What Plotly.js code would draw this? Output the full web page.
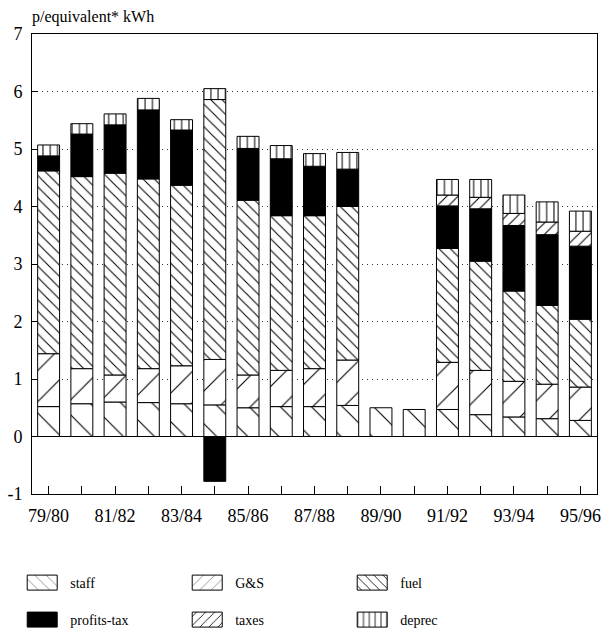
<!DOCTYPE html>
<html>
<head>
<meta charset="utf-8">
<script src="https://cdn.plot.ly/plotly-3.0.1.min.js"></script>
<style>html,body{margin:0;padding:0;background:#fff;}#chart{width:605px;height:634px;}</style>
</head>
<body>
<div id="chart"></div>
<script>
// Categories (financial years)
const years = ["79/80","80/81","81/82","82/83","83/84","84/85","85/86","86/87","87/88","88/89","89/90","90/91","91/92","92/93","93/94","94/95","95/96"];
// Tick labels (every other year shown)
const tickLabels = ["79/80","","81/82","","83/84","","85/86","","87/88","","89/90","","91/92","","93/94","","95/96"];
// Y tick values and labels
const yTickVals = [-1,0,1,2,3,4,5,6,7];
const yTickText = ["-1","0","1","2","3","4","5","6","7"];
// Cost components, p per equivalent kWh (0 = not shown)
const staff      = [0.52,0.57,0.60,0.59,0.57,0.55,0.50,0.52,0.52,0.54,0.50,0.47,0.47,0.38,0.34,0.31,0.28];
const gs         = [0.92,0.61,0.47,0.59,0.66,0.79,0.57,0.63,0.66,0.79,0,0,0.82,0.77,0.62,0.60,0.58];
const fuel       = [3.18,3.34,3.51,3.30,3.14,4.52,3.04,2.69,2.66,2.67,0,0,1.98,1.90,1.57,1.37,1.18];
const profitsTax = [0.26,0.74,0.84,1.20,0.96,-0.78,0.90,0.99,0.86,0.65,0,0,0.74,0.91,1.14,1.23,1.27];
const taxes      = [0,0,0,0,0,0,0,0,0,0,0,0,0.19,0.20,0.21,0.22,0.26];
const deprec     = [0.19,0.18,0.19,0.20,0.18,0.19,0.21,0.23,0.22,0.29,0,0,0.27,0.31,0.32,0.35,0.35];

const serif = "Liberation Serif, Times New Roman, serif";
const line = {color: "black", width: 1};
const nz = v => v.map(d => (d === 0 ? null : d));

function patBar(name, vals, shape, size, solidity, legend) {
  return {
    type: "bar", name: name, x: years, y: nz(vals), legend: legend,
    marker: {color: "white", line: line,
      pattern: {shape: shape, size: size, solidity: solidity, fgcolor: "black", bgcolor: "white", fillmode: "replace"}},
    hoverinfo: "skip"
  };
}

const traces = [
  patBar("staff", staff, "\\", 22, 0.05, "legend"),
  patBar("G&S", gs, "/", 22, 0.05, "legend"),
  patBar("fuel", fuel, "\\", 8, 0.13, "legend"),
  {type: "bar", name: "profits-tax", x: years, y: nz(profitsTax), legend: "legend2",
   marker: {color: "black", line: line}, hoverinfo: "skip"},
  patBar("taxes", taxes, "/", 8, 0.13, "legend2"),
  patBar("deprec", deprec, "|", 7.3, 0.14, "legend2")
];

const legendBase = {
  orientation: "h", xref: "container", yref: "container", x: 0.0235, xanchor: "left", yanchor: "middle",
  entrywidth: 104, entrywidthmode: "pixels", itemwidth: 46,
  font: {family: serif, size: 14, color: "black"},
  bgcolor: "rgba(0,0,0,0)", traceorder: "normal", itemclick: false, itemdoubleclick: false
};

const layout = {
  width: 605, height: 634,
  margin: {l: 32, r: 8, t: 34, b: 140},
  paper_bgcolor: "white", plot_bgcolor: "white",
  barmode: "relative", bargap: 0.34,
  font: {family: serif, size: 17, color: "black"},
  showlegend: true,
  legend: Object.assign({}, legendBase, {y: 1 - 583/634}),
  legend2: Object.assign({}, legendBase, {y: 1 - 620/634}),
  xaxis: {
    type: "category", tickmode: "array", tickvals: years, ticktext: tickLabels,
    ticks: "inside", ticklen: 8, tickcolor: "black", tickwidth: 1,
    showline: true, linecolor: "black", linewidth: 1, mirror: true,
    showgrid: false, range: [-0.5, 16.5], fixedrange: true, ticklabelstandoff: 5,
    tickfont: {family: serif, size: 18, color: "black"}
  },
  yaxis: {
    range: [-1, 7], tickmode: "array", tickvals: yTickVals, ticktext: yTickText,
    ticks: "inside", ticklen: 6, tickcolor: "black", tickwidth: 1,
    showline: true, linecolor: "black", linewidth: 1, mirror: true,
    showgrid: true, gridcolor: "#333", griddash: "1px,4px", gridwidth: 1,
    zeroline: true, zerolinecolor: "black", zerolinewidth: 1, ticklabelstandoff: 5,
    tickfont: {family: serif, size: 18, color: "black"}, fixedrange: true
  },
  annotations: [{
    text: "p/equivalent* kWh", xref: "paper", yref: "paper", x: 0, y: 1,
    xanchor: "left", yanchor: "bottom", yshift: 6, xshift: -2, showarrow: false,
    font: {family: serif, size: 16, color: "black"}
  }]
};

Plotly.newPlot("chart", traces, layout, {staticPlot: true, displayModeBar: false}).then(function () {
  // widen the legend swatches (both legends) to match the reference's rectangular keys
  document.querySelectorAll("#chart .legendpoints path").forEach(function (p) {
    p.setAttribute("d", "M15,7.5H-15V-7.5H15Z");
  });
});
</script>
</body>
</html>
